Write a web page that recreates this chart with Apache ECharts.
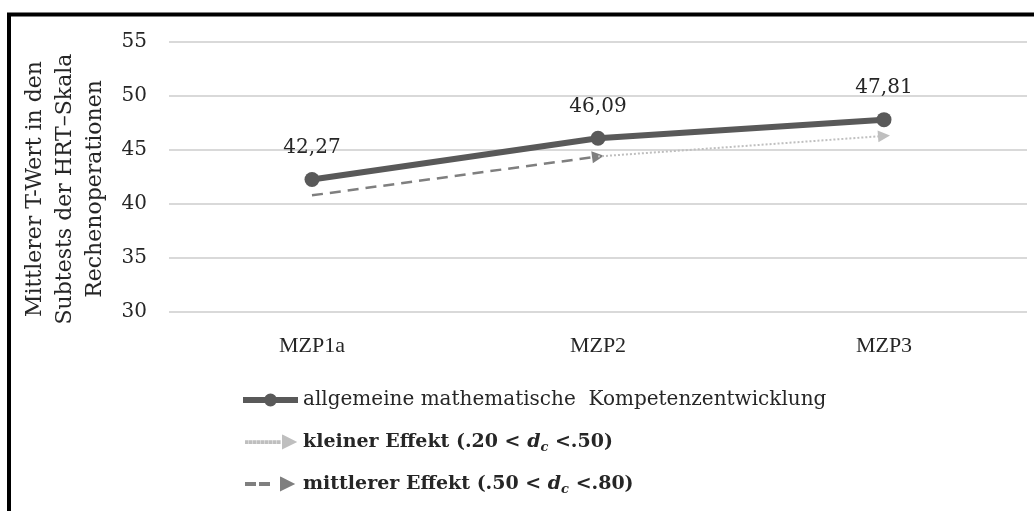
<!DOCTYPE html>
<html>
<head>
<meta charset="utf-8">
<script src="https://cdn.jsdelivr.net/npm/echarts@6/dist/echarts.min.js"></script>
<style>
html,body{margin:0;padding:0;background:#fff;}
#chart{width:1034px;height:511px;}
</style>
</head>
<body>
<div id="chart"></div>
<script>
// ---- data ----
const categories = ['MZP1a', 'MZP2', 'MZP3'];
const mainName = 'allgemeine mathematische  Kompetenzentwicklung';
const mainValues = [42.27, 46.09, 47.81];
// effect arrows: [fromCategoryIndex, fromValue, toCategoryIndex, toValue]
const smallEffectName = 'kleiner Effekt';
const smallEffect = [1, 44.4, 2, 46.3];
const smallRange = ['.20', '.50'];
const mediumEffectName = 'mittlerer Effekt';
const mediumEffect = [0, 40.8, 1, 44.4];
const mediumRange = ['.50', '.80'];
const yTicks = { min: 30, max: 55, interval: 5 };
const yAxisTitle = 'Mittlerer T-Wert in den\nSubtests der HRT\u2013Skala\nRechenoperationen';

// ---- legend icon paths (styling) ----
const anchors = 'M0 6.5 L0 6.5 Z M55 6.5 L55 6.5 Z ';
function mainIcon() {
  let p = anchors;
  p += 'M0 3.5 L23 3.5 L23 9.5 L0 9.5 Z ';
  p += 'M32 3.5 L55 3.5 L55 9.5 L32 9.5 Z ';
  p += 'M21 6.5 A6.5 6.5 0 1 1 34 6.5 A6.5 6.5 0 1 1 21 6.5 Z';
  return 'path://' + p;
}
function dottedIcon() {
  let p = anchors;
  for (let x = 3; x < 36; x += 4) {
    p += `M${x} 5.8 L${x + 1.6} 5.8 L${x + 1.6} 7.4 L${x} 7.4 Z `;
  }
  p += 'M40 0.5 L52 6.5 L40 12.5 Z';
  return 'path://' + p;
}
function dashedIcon() {
  let p = anchors;
  p += 'M3 5.5 L12 5.5 L12 7.5 L3 7.5 Z ';
  p += 'M17 5.5 L26 5.5 L26 7.5 L17 7.5 Z ';
  p += 'M38 0.5 L50 6.5 L38 12.5 Z';
  return 'path://' + p;
}

const serif = 'DejaVu Serif';
const textColor = '#262626';

function effectLabel(name, range) {
  return `{b|${name} }{m|(${range[0]} < }{i|d}{s|c}{m| <${range[1]})}`;
}

const chart = echarts.init(document.getElementById('chart'));
chart.setOption({
  animation: false,
  backgroundColor: '#fff',
  graphic: [{
    type: 'rect',
    shape: { x: 9, y: 14.5, width: 1100, height: 600 },
    style: { fill: 'none', stroke: '#000', lineWidth: 4 },
    silent: true
  }],
  grid: { left: 169, right: 7, top: 42, bottom: 199 },
  xAxis: {
    type: 'category',
    data: categories,
    boundaryGap: true,
    axisLine: { show: false },
    axisTick: { show: false },
    axisLabel: { margin: 23, fontFamily: 'Liberation Serif', fontSize: 22, color: textColor }
  },
  yAxis: {
    type: 'value',
    min: yTicks.min, max: yTicks.max, interval: yTicks.interval,
    axisLine: { show: false },
    axisTick: { show: false },
    splitLine: { lineStyle: { color: '#d9d9d9', width: 2 } },
    axisLabel: { margin: 22, fontFamily: serif, fontSize: 20, color: textColor },
    name: yAxisTitle,
    nameLocation: 'middle',
    nameRotate: 90,
    nameGap: 53,
    nameTextStyle: { fontFamily: serif, fontSize: 22, lineHeight: 30, color: textColor, align: 'center', padding: [0, 24, 0, 0] }
  },
  legend: {
    orient: 'vertical',
    left: 242,
    top: 388,
    padding: 0,
    itemGap: 18,
    itemWidth: 55,
    itemHeight: 13,
    selectedMode: false,
    textStyle: {
      fontFamily: serif, fontSize: 20, color: textColor, lineHeight: 24,
      rich: {
        b: { fontFamily: serif, fontSize: 19, fontWeight: 'bold', color: textColor, lineHeight: 24 },
        m: { fontFamily: serif, fontSize: 19, fontWeight: 'bold', color: textColor, lineHeight: 24 },
        i: { fontFamily: serif, fontSize: 19, fontWeight: 'bold', fontStyle: 'italic', color: textColor, lineHeight: 24 },
        s: { fontFamily: serif, fontSize: 13, fontWeight: 'bold', fontStyle: 'italic', color: textColor, lineHeight: 24, verticalAlign: 'bottom' }
      }
    },
    formatter: function (name) {
      if (name === smallEffectName) return effectLabel(smallEffectName, smallRange);
      if (name === mediumEffectName) return effectLabel(mediumEffectName, mediumRange);
      return name;
    },
    data: [
      { name: mainName, icon: mainIcon(), itemStyle: { color: '#595959' } },
      { name: smallEffectName, icon: dottedIcon(), itemStyle: { color: '#bfbfbf' } },
      { name: mediumEffectName, icon: dashedIcon(), itemStyle: { color: '#7f7f7f' } }
    ]
  },
  series: [
    {
      name: mediumEffectName,
      type: 'lines',
      coordinateSystem: 'cartesian2d',
      z: 1,
      symbol: ['none', 'triangle'],
      symbolSize: 12,
      lineStyle: { color: '#7f7f7f', width: 2.5, type: [11, 7], opacity: 1, curveness: 0 },
      itemStyle: { color: '#7f7f7f' },
      data: [{ coords: [[mediumEffect[0], mediumEffect[1]], [mediumEffect[2], mediumEffect[3]]] }]
    },
    {
      name: smallEffectName,
      type: 'lines',
      coordinateSystem: 'cartesian2d',
      z: 1,
      symbol: ['none', 'triangle'],
      symbolSize: 12,
      lineStyle: { color: '#bfbfbf', width: 2, type: [2, 2], opacity: 1, curveness: 0 },
      itemStyle: { color: '#bfbfbf' },
      data: [{ coords: [[smallEffect[0], smallEffect[1]], [smallEffect[2], smallEffect[3]]] }]
    },
    {
      name: mainName,
      type: 'line',
      z: 3,
      data: mainValues,
      symbol: 'circle',
      symbolSize: 15,
      color: '#595959',
      lineStyle: { color: '#595959', width: 6 },
      itemStyle: { color: '#595959' },
      label: {
        show: true,
        position: 'top',
        distance: 14,
        fontFamily: serif,
        fontSize: 20,
        color: textColor,
        formatter: p => p.value.toFixed(2).replace('.', ',')
      }
    }
  ]
});
</script>
</body>
</html>
